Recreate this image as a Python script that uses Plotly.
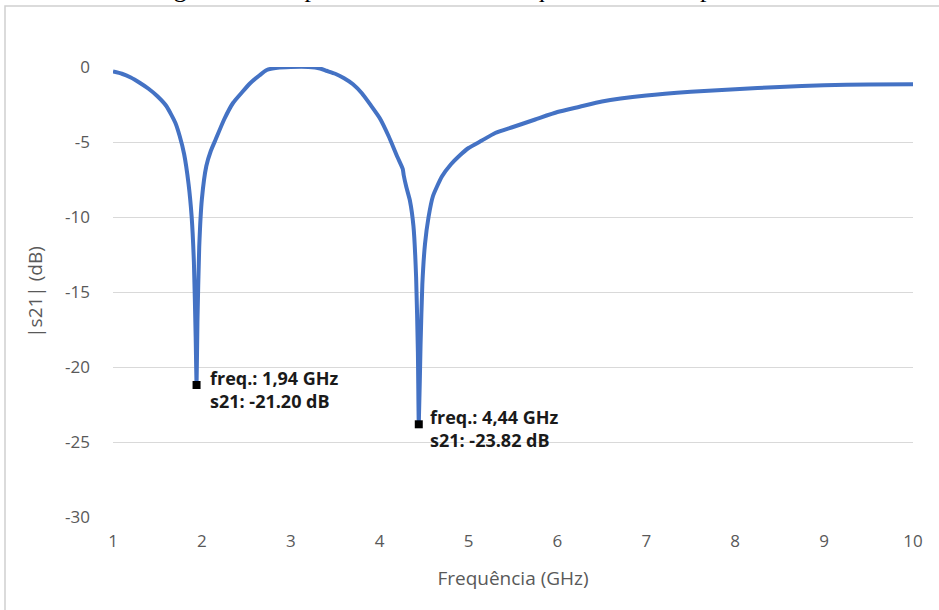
import plotly.graph_objects as go

# Data
freq = [1.00, 1.10, 1.20, 1.30, 1.40, 1.50, 1.60, 1.70, 1.75, 1.80, 1.85, 1.885,
        1.91, 1.93, 1.94, 1.95, 1.97, 2.00, 2.05, 2.10, 2.15, 2.25, 2.35, 2.45,
        2.54, 2.65, 2.73, 2.85, 3.00, 3.20, 3.33, 3.40, 3.50, 3.60, 3.70, 3.80,
        3.90, 4.00, 4.10, 4.20, 4.26, 4.27, 4.30, 4.34, 4.38, 4.41, 4.43, 4.44,
        4.46, 4.48, 4.51, 4.55, 4.60, 4.70, 4.80, 4.90, 5.00, 5.15, 5.30, 5.50,
        5.75, 6.00, 6.25, 6.50, 7.00, 7.50, 8.00, 8.50, 9.00, 9.50, 10.00]
s21 = [-0.30, -0.45, -0.70, -1.05, -1.45, -1.95, -2.60, -3.70, -4.60, -5.80, -7.80, -10.0,
       -13.0, -18.0, -21.20, -17.0, -12.0, -8.80, -6.60, -5.60, -4.90, -3.50, -2.40, -1.70,
       -1.10, -0.55, -0.20, -0.05, 0.00, 0.00, -0.10, -0.25, -0.45, -0.75, -1.15, -1.75,
       -2.55, -3.40, -4.60, -6.00, -6.80, -7.20, -8.00, -8.90, -10.6, -14.0, -19.0, -23.82,
       -18.5, -14.5, -11.8, -10.0, -8.60, -7.30, -6.50, -5.90, -5.40, -4.90, -4.40, -4.00,
       -3.50, -3.00, -2.65, -2.30, -1.90, -1.65, -1.48, -1.33, -1.22, -1.16, -1.15]

marker_freq = [1.94, 4.44]
marker_s21 = [-21.20, -23.82]
label_line1 = ["freq.: 1,94 GHz", "freq.: 4,44 GHz"]
label_line2 = ["s21: -21.20 dB", "s21: -23.82 dB"]

x_ticks = [1, 2, 3, 4, 5, 6, 7, 8, 9, 10]
x_ticktext = ["1", "2", "3", "4", "5", "6", "7", "8", "9", "10"]
y_ticks = [0, -5, -10, -15, -20, -25, -30]
y_ticktext = ["0", "-5", "-10", "-15", "-20", "-25", "-30"]

title_text = "Figura 3 \u2013 Resposta estimada em frequência da FSS por CST"

FONT = "Open Sans"
GRAY = "#595959"

fig = go.Figure()
fig.add_trace(go.Scatter(
    x=freq, y=s21, mode="lines",
    line=dict(color="#4472C4", width=4, shape="spline", smoothing=0.5),
    cliponaxis=False, showlegend=False, hoverinfo="skip"))
fig.add_trace(go.Scatter(
    x=marker_freq, y=marker_s21, mode="markers",
    marker=dict(symbol="square", size=8, color="black"),
    cliponaxis=False, showlegend=False))

annotations = []
for fx, fy, l1, l2, xs in zip(marker_freq, marker_s21, label_line1, label_line2, [11, 9]):
    annotations.append(dict(x=fx, y=fy, xref="x", yref="y", text="<b>" + l1 + "</b>",
                            showarrow=False, xanchor="left", yanchor="middle",
                            xshift=xs, yshift=7,
                            font=dict(family=FONT, size=18, color="#1a1a1a")))
    annotations.append(dict(x=fx, y=fy, xref="x", yref="y", text="<b>" + l2 + "</b>",
                            showarrow=False, xanchor="left", yanchor="middle",
                            xshift=xs, yshift=-16,
                            font=dict(family=FONT, size=18, color="#1a1a1a")))
# caption of the source document, clipped at top of page
annotations.append(dict(x=(470 - 113) / 800, y=(517 - 5) / 450, xref="paper", yref="paper",
                        text=title_text, showarrow=False, xanchor="center", yanchor="bottom",
                        font=dict(family="Liberation Serif", size=26, color="black")))

fig.update_layout(
    width=939, height=610,
    margin=dict(l=113, r=26, t=67, b=93),
    paper_bgcolor="white", plot_bgcolor="white",
    annotations=annotations,
    shapes=[dict(type="rect", xref="paper", yref="paper",
                 x0=(5 - 113) / 800, x1=(960 - 113) / 800,
                 y0=(517 - 640) / 450, y1=(517 - 6) / 450,
                 line=dict(color="#d0d0d0", width=1.5), fillcolor="rgba(0,0,0,0)",
                 layer="below")],
    xaxis=dict(range=[1, 10], tickvals=x_ticks, ticktext=x_ticktext, showgrid=False,
               zeroline=False, showline=False, ticks="", ticklabelstandoff=12,
               tickfont=dict(family=FONT, size=17, color=GRAY),
               title=dict(text="Frequência (GHz)", standoff=20,
                          font=dict(family=FONT, size=19, color=GRAY))),
    yaxis=dict(range=[-30, 0], tickvals=y_ticks, ticktext=y_ticktext, showgrid=True,
               gridcolor="#d9d9d9", gridwidth=1, zeroline=False, showline=False, ticks="",
               ticklabelstandoff=22,
               tickfont=dict(family=FONT, size=17, color=GRAY),
               title=dict(text="|s21| (dB)", standoff=17,
                          font=dict(family=FONT, size=19, color=GRAY))),
)

fig.write_html("out.html")
